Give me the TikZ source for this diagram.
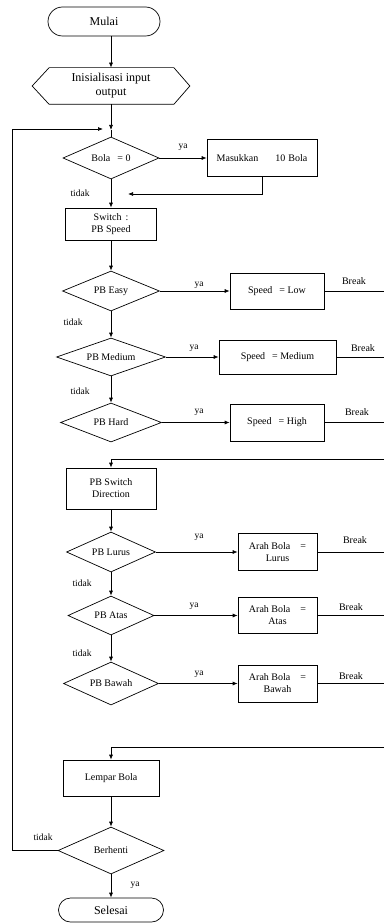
\documentclass[tikz,border=0pt]{standalone}
\usepackage{fontspec}
\setmainfont{Liberation Serif}
\usetikzlibrary{shapes.geometric,shapes.misc,arrows.meta}
\begin{document}
\begin{tikzpicture}[x=1pt,y=-1pt,
  line width=0.7pt,
  every node/.style={font=\fontsize{10}{12}\selectfont},
  proc/.style={draw, rectangle, inner sep=0pt, align=center},
  dec/.style={draw, diamond, inner sep=0pt, aspect=2.5, align=center},
  term/.style={draw, rounded rectangle, inner sep=0pt, font=\fontsize{12}{14}\selectfont},
  lbl/.style={font=\fontsize{9.5}{11}\selectfont, inner sep=0pt},
  brk/.style={font=\fontsize{10}{12}\selectfont, inner sep=0pt},
  arr/.style={-{Latex[length=5pt,width=4pt]}},
]
\useasboundingbox (0,0) rectangle (384,923);

% nodes
\node[term, minimum width=112pt, minimum height=29pt] (mulai) at (104,21.5) {Mulai};
\node[inner sep=0pt, minimum width=157pt, minimum height=36pt, align=center, font=\fontsize{12}{14}\selectfont] (init) at (111,86) {Inisialisasi input\\output};
\draw (init.west) -- ([xshift=17pt]init.north west) -- ([xshift=-16pt]init.north east) -- (init.east) -- ([xshift=-16pt]init.south east) -- ([xshift=17pt]init.south west) -- cycle;

\node[dec, minimum width=96pt, minimum height=42pt] (d1) at (111,158) {Bola\hspace{7pt}= 0};
\node[proc, minimum width=110pt, minimum height=37pt] (b1) at (262,158) {Masukkan\hspace{17pt}10\hspace{3pt}Bola};
\node[proc, minimum width=91pt, minimum height=32pt] (sw) at (111,224) {Switch\hspace{4pt}:\\PB Speed};

\node[dec, minimum width=97pt, minimum height=40pt] (de) at (111,291) {PB Easy};
\node[proc, minimum width=94pt, minimum height=36pt] (bl) at (277,291) {Speed\hspace{7pt}= Low};
\node[dec, minimum width=109pt, minimum height=38pt] (dm) at (111,357) {PB Medium};
\node[proc, minimum width=117pt, minimum height=34pt] (bm) at (277.5,357) {Speed\hspace{7pt}= Medium};
\node[dec, minimum width=101pt, minimum height=39pt] (dh) at (111,422.5) {PB Hard};
\node[proc, minimum width=94pt, minimum height=37pt] (bh) at (277,422.5) {Speed\hspace{7pt}= High};

\node[proc, minimum width=90pt, minimum height=41pt] (sd) at (111,488.5) {PB Switch\\Direction};
\node[dec, minimum width=89pt, minimum height=40pt] (dl) at (111,552) {PB Lurus};
\node[proc, minimum width=79pt, minimum height=37pt] (al) at (277.5,552) {Arah Bola\hspace{10pt}=\\Lurus};
\node[dec, minimum width=86pt, minimum height=39pt] (da) at (111,615.5) {PB Atas};
\node[proc, minimum width=79pt, minimum height=36pt] (aa) at (277.5,615.5) {Arah Bola\hspace{10pt}=\\Atas};
\node[dec, minimum width=95pt, minimum height=43pt] (db) at (111,683.5) {PB Bawah};
\node[proc, minimum width=79pt, minimum height=37pt] (ab) at (277.5,683.5) {Arah Bola\hspace{10pt}=\\Bawah};

\node[proc, minimum width=96pt, minimum height=36pt] (lb) at (111,778) {Lempar Bola};
\node[dec, minimum width=106pt, minimum height=47pt] (dbr) at (111,850.5) {Berhenti};
\node[term, minimum width=105pt, minimum height=24pt] (sel) at (111,910) {Selesai};

% coordinates
\coordinate (j1) at (111,130);
\coordinate (loopend) at (103,129);
\coordinate (lx) at (12,129);
\coordinate (ret1) at (128,194);
\coordinate (re) at (384,0);
\coordinate (r1) at (384,459);
\coordinate (r2) at (384,747);

% connectors
\draw[arr] (mulai.south -| init.north) -- (init.north);
\draw[arr] (init.south) -- (j1);
\draw (j1) -- (d1.north);
\draw[arr] (dbr.west) -| (lx) -- (loopend);
\draw[arr] (d1.east) -- (b1.west);
\draw[arr] (b1.south) |- (ret1);
\draw[arr] (d1.south) -- (sw.north);
\draw[arr] (sw.south) -- (de.north);

\draw[arr] (de.east) -- (bl.west);
\draw (bl.east) -- (bl.east -| re);
\draw[arr] (de.south) -- (dm.north);
\draw[arr] (dm.east) -- (bm.west);
\draw (bm.east) -- (bm.east -| re);
\draw[arr] (dm.south) -- (dh.north);
\draw[arr] (dh.east) -- (bh.west);
\draw (bh.east) -- (bh.east -| re);

\draw[arr] (r1) -| (sd.north);
\draw[arr] (sd.south) -- (dl.north);
\draw[arr] (dl.east) -- (al.west);
\draw (al.east) -- (al.east -| re);
\draw[arr] (dl.south) -- (da.north);
\draw[arr] (da.east) -- (aa.west);
\draw (aa.east) -- (aa.east -| re);
\draw[arr] (da.south) -- (db.north);
\draw[arr] (db.east) -- (ab.west);
\draw (ab.east) -- (ab.east -| re);

\draw[arr] (r2) -| (lb.north);
\draw[arr] (lb.south) -- (dbr.north);
\draw[arr] (dbr.south) -- (sel.north);

% labels
\node[lbl] (ya1) at (183,147) {ya};
\node[lbl] (ti1) at (80,193) {tidak};
\node[lbl] (ya2) at (199,285) {ya};
\node[lbl] (ti2) at (73,322) {tidak};
\node[lbl] (ya3) at (194,348) {ya};
\node[lbl] (ti3) at (80,391) {tidak};
\node[lbl] (ya4) at (199,412) {ya};
\node[lbl] (ya5) at (199,537) {ya};
\node[lbl] (ti5) at (82,583) {tidak};
\node[lbl] (ya6) at (194,606) {ya};
\node[lbl] (ti6) at (82,653) {tidak};
\node[lbl] (ya7) at (199,674) {ya};
\node[lbl] (ti7) at (43,837) {tidak};
\node[lbl] (ya8) at (135,885) {ya};

\node[brk] (bk1) at (354,281) {Break};
\node[brk] (bk2) at (363,348) {Break};
\node[brk] (bk3) at (357,412) {Break};
\node[brk] (bk4) at (355,540) {Break};
\node[brk] (bk5) at (351,607) {Break};
\node[brk] (bk6) at (351,676) {Break};
\end{tikzpicture}
\end{document}
